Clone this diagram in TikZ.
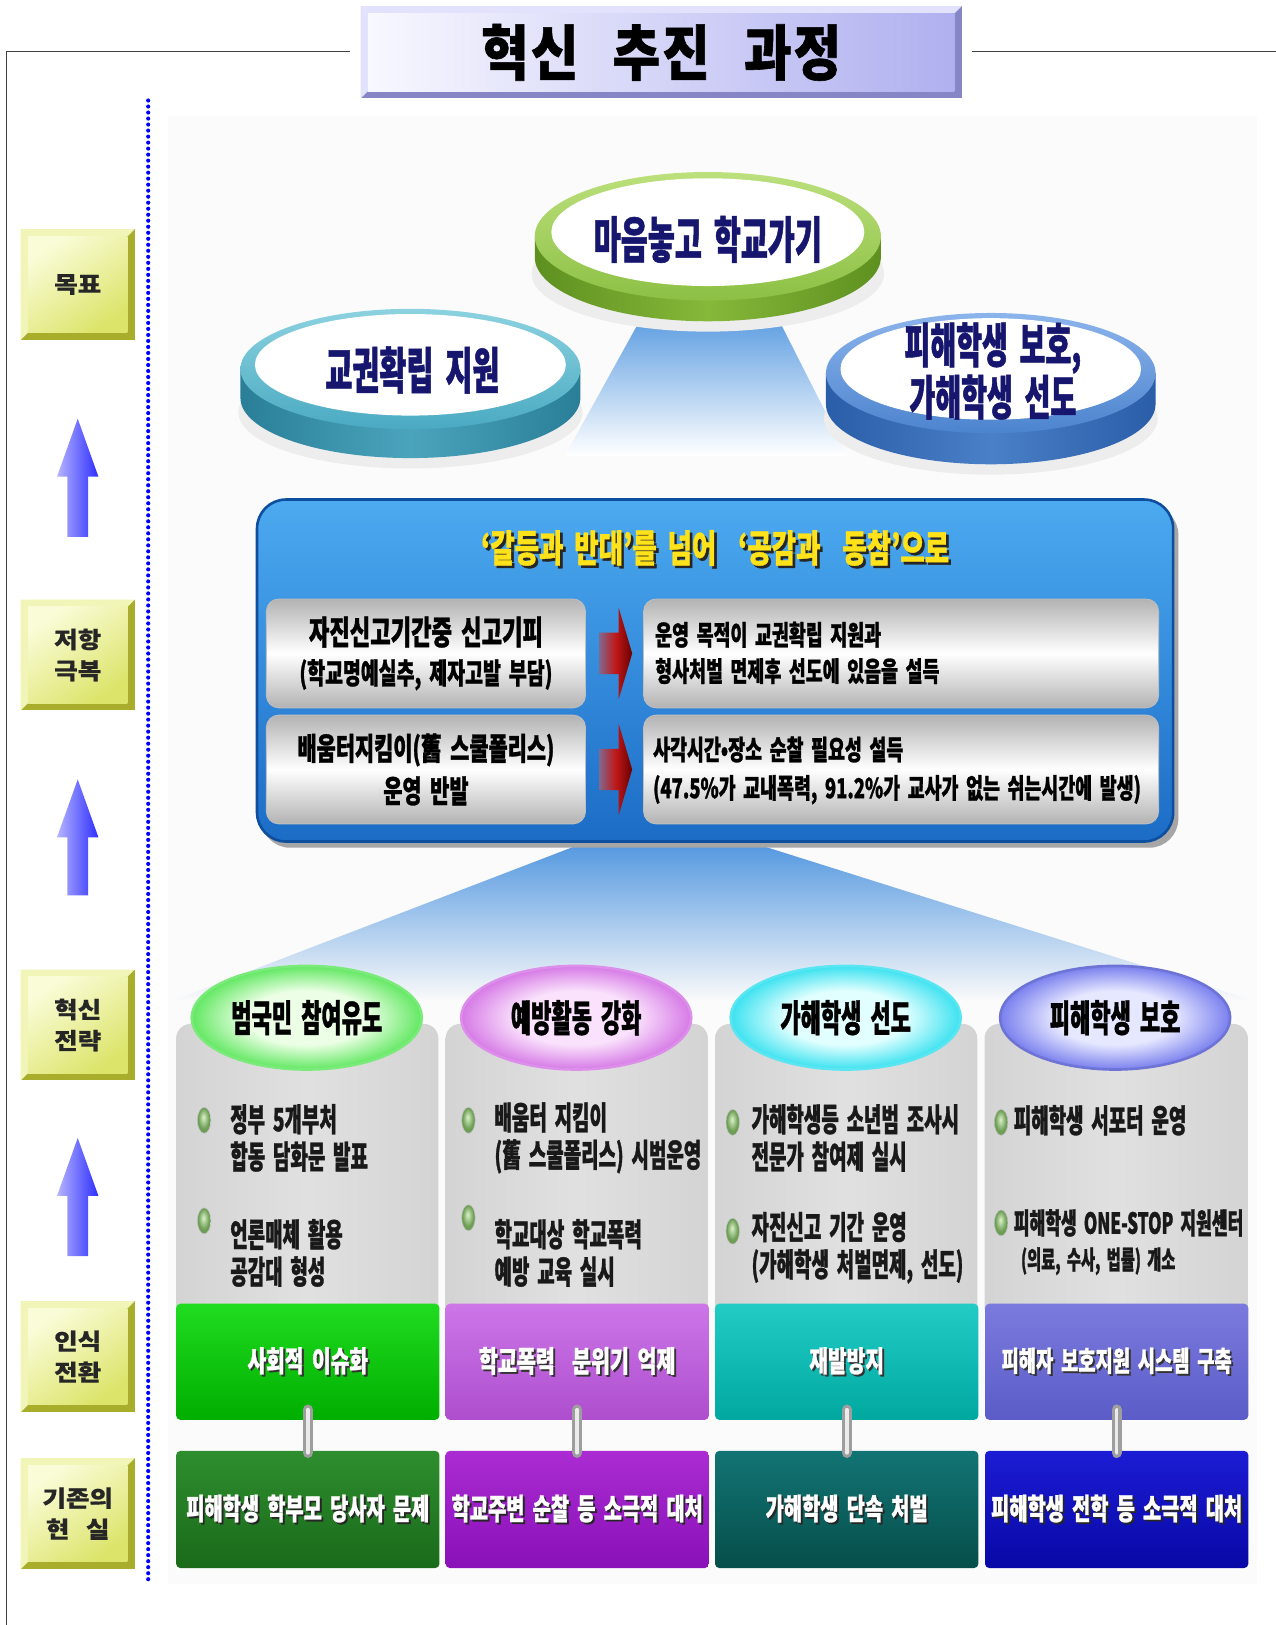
\documentclass[tikz,border=0pt]{standalone}
\usepackage{fontspec}
\usetikzlibrary{shapes.geometric,calc}
\newfontfamily\kA{Noto Sans CJK KR}[FakeStretch=0.59,WordSpace=1.8,FakeBold=1]
\newfontfamily\kB{Noto Sans CJK KR}[FakeStretch=0.67,WordSpace=1.8,FakeBold=1]
\newfontfamily\kC{Noto Sans CJK KR}[FakeStretch=0.7,WordSpace=1.8,FakeBold=1]
\newfontfamily\kN{Noto Sans CJK KR}[FakeStretch=0.86,FakeBold=1]
\newfontfamily\kX{Noto Sans CJK KR}[FakeStretch=1.12,FakeBold=0.5]
\newcommand\fsz[1]{\fontsize{#1}{#1}\selectfont}
\newcommand\fsb[2]{\fontsize{#1}{#2}\selectfont}
\newcommand\shd[3]{\makebox[0pt][l]{\kern#3\raisebox{-#3}{\textcolor{#1}{#2}}}#2}
% colours
\definecolor{navyt}{HTML}{16166E}
\definecolor{ytop}{HTML}{FAFCD8}
\definecolor{ybot}{HTML}{DCE46A}
\definecolor{ydark}{HTML}{A8AE2C}
\definecolor{ylight}{HTML}{F2F5B8}
\definecolor{ttop}{HTML}{F8F8FF}
\definecolor{tbot}{HTML}{B0B0F0}
\definecolor{tdark}{HTML}{8686C6}
\definecolor{tlight}{HTML}{E2E2FC}
\definecolor{arL}{HTML}{B4B4FF}
\definecolor{arR}{HTML}{2E2EFF}
\definecolor{cone}{HTML}{4A92DE}
\definecolor{grim1}{HTML}{BCE07C}\definecolor{grim2}{HTML}{8CC044}
\definecolor{gside1}{HTML}{86B83A}\definecolor{gside2}{HTML}{5E9020}
\definecolor{trim1}{HTML}{8CD2E0}\definecolor{trim2}{HTML}{4AAAC2}
\definecolor{tside1}{HTML}{4AA4BC}\definecolor{tside2}{HTML}{2A7E98}
\definecolor{brim1}{HTML}{8CB4EC}\definecolor{brim2}{HTML}{4C84CE}
\definecolor{bside1}{HTML}{4A80C8}\definecolor{bside2}{HTML}{2A5EA8}
\definecolor{bbtop}{HTML}{4CAAF0}\definecolor{bbbot}{HTML}{1C6CC6}\definecolor{bbdraw}{HTML}{0E4E9E}
\definecolor{ttl}{HTML}{FFE21A}
\definecolor{redA}{HTML}{C01818}\definecolor{redB}{HTML}{6A0000}
\definecolor{h1i}{HTML}{ECFFE6}\definecolor{h1o}{HTML}{62E862}
\definecolor{h2i}{HTML}{FAE2FC}\definecolor{h2o}{HTML}{D67AE6}
\definecolor{h3i}{HTML}{E2FFFF}\definecolor{h3o}{HTML}{3CE2F0}
\definecolor{h4i}{HTML}{E6E8FF}\definecolor{h4o}{HTML}{7A80EE}
\definecolor{bulI}{HTML}{DAF2C8}\definecolor{bulO}{HTML}{6E9E56}
\definecolor{m1t}{HTML}{20DC20}\definecolor{m1b}{HTML}{00AE00}
\definecolor{m2t}{HTML}{CC76E8}\definecolor{m2b}{HTML}{AE4ECE}
\definecolor{m3t}{HTML}{22CCC4}\definecolor{m3b}{HTML}{00A8A0}
\definecolor{m4t}{HTML}{7A7ADE}\definecolor{m4b}{HTML}{5C5CC8}
\definecolor{b1t}{HTML}{2E8E2E}\definecolor{b1b}{HTML}{1A6A1A}
\definecolor{b2t}{HTML}{AA2CD2}\definecolor{b2b}{HTML}{8A10B8}
\definecolor{b3t}{HTML}{127474}\definecolor{b3b}{HTML}{064E4A}
\definecolor{b4t}{HTML}{1C1CD4}\definecolor{b4b}{HTML}{0808A6}
\pgfdeclareradialshading{hsA}{\pgfpoint{0bp}{0bp}}{color(0bp)=(h1i); color(13bp)=(h1i); color(25bp)=(h1o); color(50bp)=(h1o)}
\pgfdeclareradialshading{hsB}{\pgfpoint{0bp}{0bp}}{color(0bp)=(h2i); color(13bp)=(h2i); color(25bp)=(h2o); color(50bp)=(h2o)}
\pgfdeclareradialshading{hsC}{\pgfpoint{0bp}{0bp}}{color(0bp)=(h3i); color(13bp)=(h3i); color(25bp)=(h3o); color(50bp)=(h3o)}
\pgfdeclareradialshading{hsD}{\pgfpoint{0bp}{0bp}}{color(0bp)=(h4i); color(13bp)=(h4i); color(25bp)=(h4o); color(50bp)=(h4o)}
\pgfdeclareradialshading{bulS}{\pgfpoint{-3bp}{6bp}}{color(0bp)=(bulI); color(20bp)=(bulO); color(50bp)=(bulO)}
\newcommand\lbl[3]{%
  \fill[ydark] (20,#2-53.5) rectangle (130,#2+53.5);
  \fill[ylight] (20,#2-53.5) -- (130,#2-53.5) -- (123,#2-46.5) -- (27,#2-46.5) -- (27,#2+46.5) -- (20,#2+53.5) -- cycle;
  \node[ylab] (#1) at (75,#2) {#3};
}
\newcommand\uparr[2]{%
  \shade[upar] (75,#1) -- (95,#1+56) -- (85,#1+56) -- (85,#2) -- (65,#2) -- (65,#1+56) -- (55,#1+56) -- cycle;
}
\begin{document}
\begin{tikzpicture}[x=1pt,y=-1pt,
  frame/.style={draw=black!75, line width=1.2pt},
  dotline/.style={draw=blue, line width=4pt, dash pattern=on 0pt off 5.8pt, line cap=round},
  ylab/.style={rectangle, minimum width=96pt, minimum height=93pt, inner sep=0pt, align=center,
    top color=ytop, bottom color=ybot, shading angle=35, font=\kX\bfseries\fsb{22}{30}, text=black!85},
  upar/.style={left color=arL, right color=arR},
  titlebox/.style={rectangle, minimum width=566pt, minimum height=75pt, inner sep=0pt,
    left color=ttop, right color=tbot, font=\kN\bfseries\fsz{58}},
  disctxt/.style={font=\kA\bfseries\fsb{48}{49}, text=navyt, align=center, inner sep=0pt},
  bigbox/.style={rectangle, rounded corners=28pt, minimum width=884pt, minimum height=330pt,
    top color=bbtop, bottom color=bbbot, draw=bbdraw, line width=2.5pt},
  greybox/.style={rectangle, rounded corners=12pt, minimum height=105pt, inner sep=0pt,
    top color=black!30, bottom color=black!30, middle color=white, draw=black!25, line width=0.8pt},
  qtxt/.style={anchor=west, align=left, inner sep=0pt, font=\kB\bfseries\fsb{26.5}{35}},
  redar/.style={left color=redA!45!bbtop, right color=redB, middle color=redA},
  hdr/.style={ellipse, minimum width=222pt, minimum height=100pt, inner sep=0pt,
    font=\kA\bfseries\fsz{36}, line width=2.5pt},
  bul/.style={ellipse, minimum width=13pt, minimum height=25pt, inner sep=0pt, shading=bulS, draw=black!25, line width=0.5pt},
  btxt/.style={anchor=west, align=left, inner sep=0pt, font=\kA\bfseries\fsb{31}{36}, text=black!90},
  mbox/.style={rectangle, minimum width=254pt, minimum height=112pt, inner sep=0pt, rounded corners=4pt,
    text=white, font=\kC\bfseries\fsz{28}},
  bbox/.style={rectangle, minimum width=254pt, minimum height=113pt, inner sep=0pt, rounded corners=4pt,
    text=white, font=\kB\bfseries\fsz{28.5}},
  conn/.style={line width=10pt, draw=black!38, line cap=round, shorten <=-10pt, shorten >=-2pt},
  connhi/.style={line width=3.5pt, draw=black!8, line cap=round, shorten <=-10pt, shorten >=-2pt}
]
\useasboundingbox (0,0) rectangle (1231,1568);
\fill[white] (0,0) rectangle (1231,1568);
\fill[black!1.5] (162,112) rectangle (1213,1528);

% frame
\draw[frame] (6,1568) -- (6,50) -- (338,50);
\draw[frame] (938,50) -- (1231,50);

% title
\fill[tdark] (348,6) rectangle (928,95);
\fill[tlight] (348,6) -- (928,6) -- (921,13) -- (355,13) -- (355,88) -- (348,95) -- cycle;
\node[titlebox] (title) at (638,50.5) {혁\hspace{2pt}신\hspace{33pt}추\hspace{2pt}진\hspace{33pt}과\hspace{2pt}정};

% dotted separator
\draw[dotline] (143,97) -- (143,1525);

% left labels
\lbl{lab1}{274.5}{목표}
\lbl{lab2}{632}{저항\\극복}
\lbl{lab3}{989}{혁신\\전략}
\lbl{lab4}{1309}{인식\\전환}
\lbl{lab5}{1460.5}{기존의\\현\hspace{16pt}실}
\uparr{404}{518}
\uparr{752}{864}
\uparr{1098}{1212}

% top cone
\shade[top color=cone, bottom color=white] (628,290) -- (742,290) -- (818,440) -- (545,440) -- cycle;

% green disc
\fill[black!7] (683,264) ellipse [x radius=170pt, y radius=56pt];
\shade[left color=gside2, right color=gside2, middle color=gside1] (516,228) -- (516,248) arc[start angle=180, end angle=360, x radius=167pt, y radius=62pt] -- (850,228) -- cycle;
\shade[top color=grim1, bottom color=grim2] (683,228) ellipse [x radius=167pt, y radius=62pt];
\fill[white] (683,224) ellipse [x radius=151pt, y radius=52pt];
\node[disctxt] (goal) at (683,231) {마음놓고 학교가기};

% teal disc
\fill[black!7] (396,398) ellipse [x radius=166pt, y radius=54pt];
\shade[left color=tside2, right color=tside2, middle color=tside1] (232,356) -- (232,384) arc[start angle=180, end angle=360, x radius=164pt, y radius=58pt] -- (560,356) -- cycle;
\shade[top color=trim1, bottom color=trim2] (396,356) ellipse [x radius=164pt, y radius=58pt];
\fill[white] (396,352) ellipse [x radius=150pt, y radius=49pt];
\node[disctxt] (teach) at (398,357) {교권확립 지원};

% blue disc
\fill[black!7] (956,404) ellipse [x radius=161pt, y radius=54pt];
\shade[left color=bside2, right color=bside2, middle color=bside1] (797,360) -- (797,390) arc[start angle=180, end angle=360, x radius=159pt, y radius=58pt] -- (1115,360) -- cycle;
\shade[top color=brim1, bottom color=brim2] (956,360) ellipse [x radius=159pt, y radius=58pt];
\fill[white] (956,356) ellipse [x radius=145pt, y radius=49pt];
\node[disctxt, font=\kA\bfseries\fsb{46}{49}] (victim) at (958,358) {피해학생 보호,\\가해학생 선도};

% lower cone
\shade[top color=cone, bottom color=black!2] (585,805) -- (700,805) -- (1208,965) -- (168,965) -- cycle;

% big blue box
\fill[black!35, rounded corners=28pt] (252,488) rectangle (1137,818);
\node[bigbox] (big) at (690,647) {};
\node[font=\kC\bfseries\fsz{36.5}, text=ttl, inner sep=0pt] (bigtitle) at (690,530)
  {\shd{black!85}{‘갈등과 반대’를 넘어\ \ ‘공감과\ \ 동참’으로}{2.5pt}};

\node[greybox, minimum width=308pt, align=center, font=\kB\bfseries\fsb{32}{38}] (p1) at (411,630.5)
  {자진신고기간중 신고기피\\{\fsz{28}(학교명예실추, 제자고발 부담)}};
\node[greybox, minimum width=308pt, align=center, font=\kB\bfseries\fsb{30}{41}] (p2) at (411,742.5)
  {배움터지킴이(舊 스쿨폴리스)\\운영 반발};
\node[greybox, minimum width=497pt] (q1) at (869.5,630.5) {};
\node[greybox, minimum width=497pt] (q2) at (869.5,742.5) {};
\node[qtxt] (q1t) at (632,630) {운영 목적이 교권확립 지원과\\형사처벌 면제후 선도에 있음을 설득};
\node[qtxt, font=\kB\bfseries\fsb{26.5}{37}] (q2t) at (630,743.5)
  {사각시간•장소 순찰 필요성 설득\\{\fsz{26.5}(47.5\%가 교내폭력, 91.2\%가 교사가 없는 쉬는시간에 발생)}};

\coordinate (ra1) at ($(p1.east)!0.5!(q1.west)$);
\coordinate (ra2) at ($(p2.east)!0.5!(q2.west)$);
\shade[redar, shift={(ra1)}] (-15,-20) -- (4,-20) -- (4,-44) -- (17,0) -- (4,44) -- (4,20) -- (-15,20) -- cycle;
\shade[redar, shift={(ra2)}] (-15,-20) -- (4,-20) -- (4,-44) -- (17,0) -- (4,44) -- (4,20) -- (-15,20) -- cycle;

% column panels
\shade[left color=black!17, right color=black!17, middle color=black!12, rounded corners=14pt] (170,988) rectangle (423,1275);
\shade[left color=black!17, right color=black!17, middle color=black!12, rounded corners=14pt] (430,988) rectangle (683,1275);
\shade[left color=black!17, right color=black!17, middle color=black!12, rounded corners=14pt] (690,988) rectangle (943,1275);
\shade[left color=black!17, right color=black!17, middle color=black!12, rounded corners=14pt] (950,988) rectangle (1204,1275);

% header ellipses
\node[hdr, shading=hsA, draw=h1o!85!white] (h1) at (296,982) {범국민 참여유도};
\node[hdr, shading=hsB, draw=h2o!85!white] (h2) at (556,982) {예방활동 강화};
\node[hdr, shading=hsC, draw=h3o!85!white] (h3) at (816,982) {가해학생 선도};
\node[hdr, shading=hsD, draw=h4o!90!black] (h4) at (1076,982) {피해학생 보호};

% bullets and texts
\node[bul] (u11) at (197,1081) {};
\node[bul] (u12) at (197,1178) {};
\node[btxt] (t11) at (222,1098) {정부 5개부처\\합동 담화문 발표};
\node[btxt] (t12) at (222,1209) {언론매체 활용\\공감대 형성};

\node[bul] (u21) at (452,1081) {};
\node[bul] (u22) at (452,1175) {};
\node[btxt] (t21) at (477,1098) {배움터 지킴이\\(舊 스쿨폴리스) 시범운영};
\node[btxt] (t22) at (477,1209) {학교대상 학교폭력\\예방 교육 실시};

\node[bul] (u31) at (707,1083) {};
\node[bul] (u32) at (707,1188) {};
\node[btxt] (t31) at (725,1098) {가해학생등 소년범 조사시\\전문가 참여제 실시};
\node[btxt] (t32) at (725,1204) {자진신고 기간 운영\\(가해학생 처벌면제, 선도)};

\node[bul] (u41) at (966,1083) {};
\node[bul] (u42) at (966,1180) {};
\node[btxt] (t41) at (978,1081) {피해학생 서포터 운영};
\node[btxt, font=\kA\bfseries\fsz{28}] (t42) at (978,1180) {피해학생 ONE-STOP 지원센터};
\node[btxt, font=\kA\bfseries\fsz{25}] (t43) at (985,1217) {(의료, 수사, 법률) 개소};

% middle boxes
\node[mbox, top color=m1t, bottom color=m1b] (m1) at (297,1314) {\shd{black!80}{사회적 이슈화}{1.8pt}};
\node[mbox, top color=m2t, bottom color=m2b, font=\kC\bfseries\fsz{28.5}] (m2) at (557,1314) {\shd{black!80}{학교폭력\ \ 분위기 억제}{1.8pt}};
\node[mbox, top color=m3t, bottom color=m3b] (m3) at (817,1314) {\shd{black!80}{재발방지}{1.8pt}};
\node[mbox, top color=m4t, bottom color=m4b, font=\kB\bfseries\fsz{27}] (m4) at (1077.5,1314) {\shd{black!80}{피해자 보호지원 시스템 구축}{1.8pt}};

% bottom boxes
\node[bbox, top color=b1t, bottom color=b1b] (b1) at (297,1456.5) {\shd{black!85}{피해학생 학부모 당사자 문제}{1.8pt}};
\node[bbox, top color=b2t, bottom color=b2b] (b2) at (557,1456.5) {\shd{black!85}{학교주변 순찰 등 소극적 대처}{1.8pt}};
\node[bbox, top color=b3t, bottom color=b3b] (b3) at (817,1456.5) {\shd{black!85}{가해학생 단속 처벌}{1.8pt}};
\node[bbox, top color=b4t, bottom color=b4b] (b4) at (1077.5,1456.5) {\shd{black!85}{피해학생 전학 등 소극적 대처}{1.8pt}};

% connectors
\foreach \i in {1,2,3,4}{
  \draw[conn] (m\i.south) -- (b\i.north);
  \draw[connhi] (m\i.south) -- (b\i.north);
}
\end{tikzpicture}
\end{document}
